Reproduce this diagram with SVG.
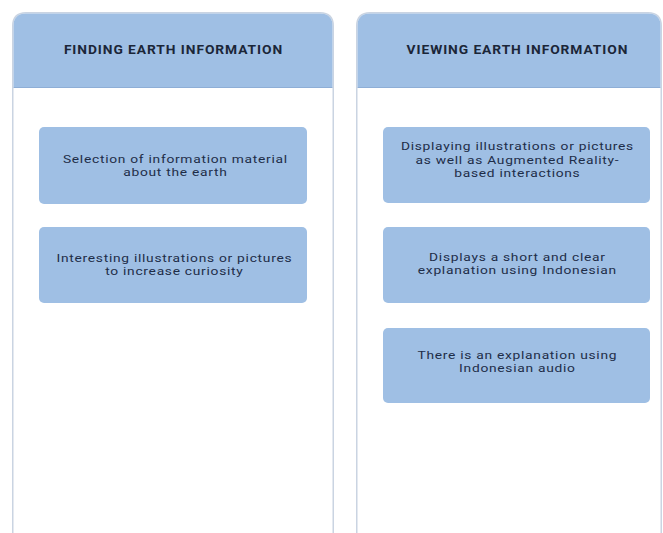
<svg xmlns="http://www.w3.org/2000/svg" width="663" height="533" viewBox="0 0 663 533">
  <style>
    .panel { fill: #ffffff; stroke: #cad4e2; stroke-width: 1.5; }
    .head { fill: #9fbfe4; }
    .headline { stroke: #8eaed6; stroke-width: 1; }
    .box { fill: #9fbfe4; }
    .title { font-family: Roboto, "Liberation Sans", sans-serif; font-weight: bold; font-size: 12px; letter-spacing: 0.8px; fill: #1b2638; text-anchor: middle; }
    .label { font-family: Roboto, "Liberation Sans", sans-serif; font-size: 11.5px; letter-spacing: 0.6px; fill: #1e2d48; text-anchor: middle; }
  </style>
  <rect x="0" y="0" width="663" height="533" fill="#ffffff"/>

  <g id="panel-finding">
    <path class="panel" d="M12.75,540 V26 Q12.75,12.75 26,12.75 H320 Q333.25,12.75 333.25,26 V540"/>
    <path class="head" d="M13.5,87 V26 Q13.5,13.5 26,13.5 H320 Q332.5,13.5 332.5,26 V87 Z"/>
    <line class="headline" x1="13.5" y1="87.5" x2="332.5" y2="87.5"/>
    <g transform="translate(173 0) scale(1.15 1)">
      <text class="title" x="0.4" y="54.5">FINDING EARTH INFORMATION</text>
    </g>
  </g>

  <g id="panel-viewing">
    <path class="panel" d="M356.75,540 V26 Q356.75,12.75 370,12.75 H648 Q661.25,12.75 661.25,26 V540"/>
    <path class="head" d="M357.5,87 V26 Q357.5,13.5 370,13.5 H648 Q660.5,13.5 660.5,26 V87 Z"/>
    <line class="headline" x1="357.5" y1="87.5" x2="660.5" y2="87.5"/>
    <g transform="translate(517 0) scale(1.15 1)">
      <text class="title" x="0.4" y="54.5">VIEWING EARTH INFORMATION</text>
    </g>
  </g>

  <g id="node-selection">
    <rect class="box" x="39" y="127" width="268" height="77" rx="5"/>
    <g transform="translate(175 0) scale(1.2 1)">
      <text class="label" x="0.3" y="163">Selection of information material</text>
      <text class="label" x="0.3" y="176.5">about the earth</text>
    </g>
  </g>

  <g id="node-illustrations">
    <rect class="box" x="39" y="227" width="268" height="76" rx="5"/>
    <g transform="translate(174 0) scale(1.2 1)">
      <text class="label" x="0.3" y="262">Interesting illustrations or pictures</text>
      <text class="label" x="0.3" y="275.5">to increase curiosity</text>
    </g>
  </g>

  <g id="node-ar">
    <rect class="box" x="383" y="127" width="267" height="76" rx="5"/>
    <g transform="translate(517 0) scale(1.2 1)">
      <text class="label" x="0.3" y="150.5">Displaying illustrations or pictures</text>
      <text class="label" x="0.3" y="164">as well as Augmented Reality-</text>
      <text class="label" x="0.3" y="177.5">based interactions</text>
    </g>
  </g>

  <g id="node-explanation">
    <rect class="box" x="383" y="227" width="267" height="76" rx="5"/>
    <g transform="translate(517 0) scale(1.2 1)">
      <text class="label" x="0.3" y="261">Displays a short and clear</text>
      <text class="label" x="0.3" y="274.5">explanation using Indonesian</text>
    </g>
  </g>

  <g id="node-audio">
    <rect class="box" x="383" y="328" width="267" height="75" rx="5"/>
    <g transform="translate(517 0) scale(1.2 1)">
      <text class="label" x="0.3" y="359">There is an explanation using</text>
      <text class="label" x="0.3" y="372.5">Indonesian audio</text>
    </g>
  </g>

  <g id="connectors"/>
</svg>
